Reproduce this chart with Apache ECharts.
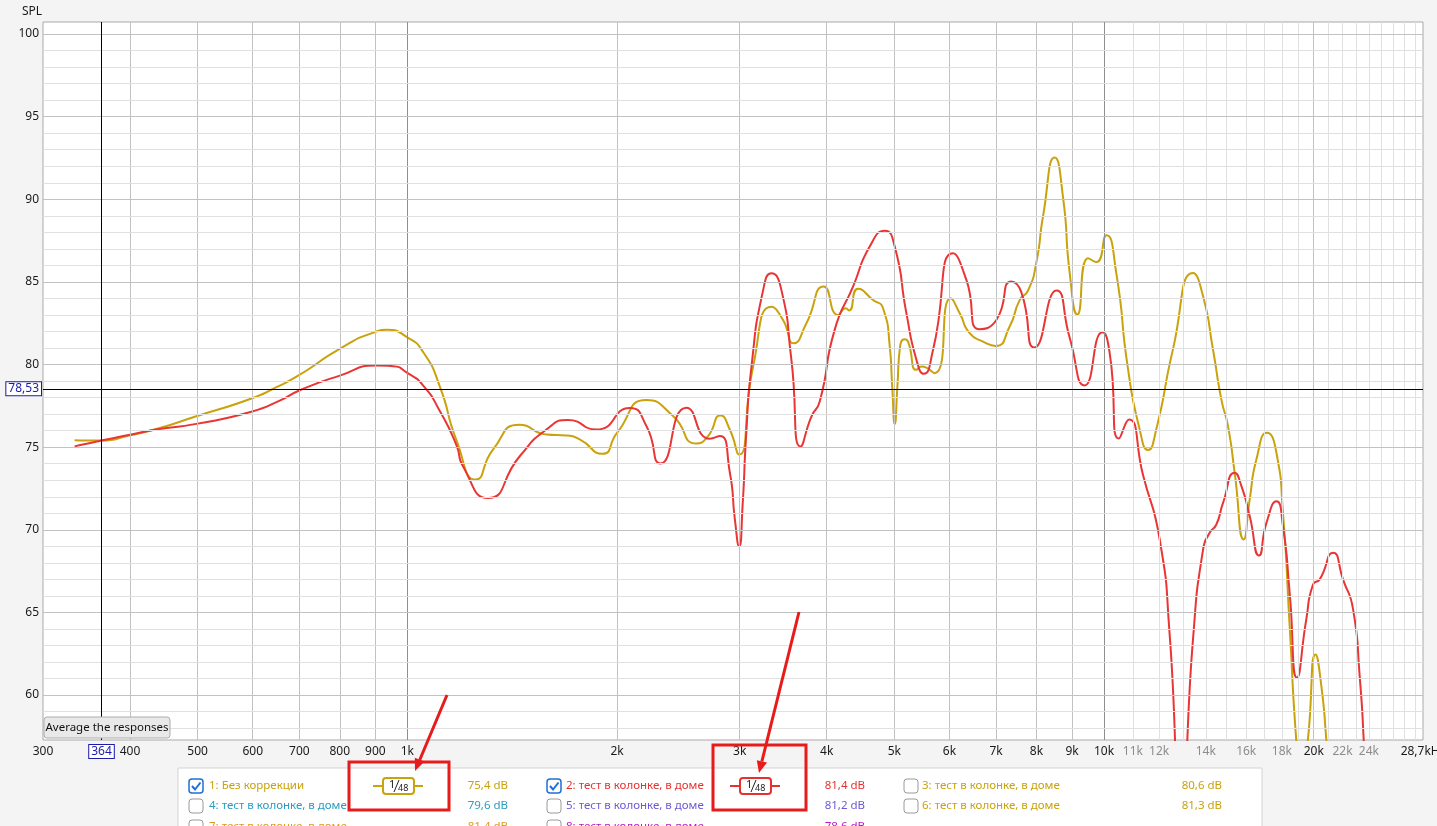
<!DOCTYPE html>
<html><head><meta charset="utf-8">
<script src="https://cdn.jsdelivr.net/npm/echarts@6/dist/echarts.min.js"></script>
<style>html,body{margin:0;padding:0;background:#f4f4f4;overflow:hidden}#c{width:1437px;height:826px}</style>
</head><body><div id="c"></div>
<script>
const FONT = '"Noto Sans", "Open Sans", sans-serif';

// Measurement 1: "Без коррекции" (gold)
const freq1 = [333,364,400,436,498,599,649,700,800,898,934,1000,1054,1113,1177,1254,1328,1450,1584,1692,1768,1906,2000,2204,2407,2600,2702,2815,2903,2994,3136,3332,3462,3587,3740,3961,4153,4259,4306,4436,4661,4818,4926,4966,5008,5052,5091,5175,5233,5381,5470,5715,6026,6208,6415,6706,6991,7321,7568,7781,7998,8175,8497,8735,8930,9157,9487,9752,10079,10416,10823,11250,11564,11887,12560,13420,13875,14337,14740,15066,15403,15868,16185,16547,17140,17680,18067,18472,18877,19200,19620,20125,20510,20850,21500];
const spl1  = [75.42,75.40,75.72,76.10,76.87,77.96,78.63,79.37,80.95,81.96,82.10,81.65,80.75,78.70,75.40,73.04,74.86,76.36,75.77,75.71,75.47,74.60,75.87,77.85,76.88,75.22,75.67,76.92,76.07,74.55,79.88,83.50,82.70,81.29,82.50,84.72,83.00,83.41,83.27,84.58,83.91,83.41,81.09,78.67,76.41,78.67,80.90,81.53,81.39,79.68,79.88,79.48,84.01,83.10,81.90,81.39,81.13,82.30,83.90,84.48,86.20,88.97,92.53,90.10,85.52,83.03,86.44,86.20,87.82,85.52,79.77,76.09,74.83,76.09,80.92,85.54,84.13,80.91,77.88,76.27,73.45,69.42,71.83,74.25,75.87,74.66,71.03,64.17,57.30,54.50,57.30,62.46,60.55,57.30,50.00];

// Measurement 2: "тест в колонке, в доме" (red)
const freq2 = [333,364,400,436,498,599,656,700,800,903,954,1000,1054,1113,1177,1202,1306,1450,1584,1701,1868,2086,2204,2309,2516,2718,2809,2903,2953,2994,3030,3064,3119,3242,3332,3443,3559,3670,3802,3908,4106,4363,4610,4845,5008,5205,5381,5512,5684,6072,6346,6631,7007,7361,7611,7951,8546,8930,9382,9947,10190,10508,10862,11374,12020,12423,12900,13420,13875,14180,14497,14820,15403,15750,16185,16690,17107,17680,18067,18472,18923,19515,19953,20400,21320,22030,22780,23280,23590,24000];
const spl2  = [75.05,75.40,75.75,76.07,76.41,77.16,77.82,78.43,79.33,79.94,79.90,79.50,78.73,77.20,75.10,73.85,71.92,74.45,76.07,76.64,76.07,77.37,76.28,74.01,77.39,75.51,75.67,73.50,70.60,69.00,71.60,75.65,79.88,84.52,85.52,84.52,80.28,75.04,76.85,77.76,82.10,84.72,87.14,88.10,87.14,83.10,80.28,79.44,80.89,86.73,85.12,82.14,82.70,85.02,84.37,81.03,84.48,81.61,78.74,81.95,80.69,75.52,76.67,73.33,69.43,63.68,52.50,63.37,68.81,69.82,70.32,71.63,73.45,72.64,70.83,68.45,70.42,71.73,70.22,66.19,61.05,64.58,66.69,67.00,68.61,67.00,65.18,61.15,57.30,50.00];

// Axis ticks / grid
const xDecadeLines = [1000, 10000];
const xMajorLines = [400,500,600,700,800,900,2000,3000,4000,5000,6000,7000,8000,9000,20000];
const xMinorLines = [11000,12000,13000,14000,15000,16000,17000,18000,19000,21000,22000,23000,24000,25000,26000,27000,28000];
const xLabelValues = [300,400,500,600,700,800,900,1000,2000,3000,4000,5000,6000,7000,8000,9000,10000,11000,12000,14000,16000,18000,20000,22000,24000,28700];
const xLabelTexts  = ['300','400','500','600','700','800','900','1k','2k','3k','4k','5k','6k','7k','8k','9k','10k','11k','12k','14k','16k','18k','20k','22k','24k','28,7kHz'];
const xLabelGray   = [11000,12000,14000,16000,18000,22000,24000];
const yMajor = [60,65,70,75,80,85,90,95,100];
const yMinor = [58,59,61,62,63,64,66,67,68,69,71,72,73,74,76,77,78,79,81,82,83,84,86,87,88,89,91,92,93,94,96,97,98,99];
const xMin = 300, xMax = 28700, yMin = 57.28, yMax = 100.73;

// Cursor
const cursorFreq = 364;
const cursorSpl = 78.53;

// Legend table
const legendNames  = ['1: Без коррекции','2: тест в колонке, в доме','3: тест в колонке, в доме','4: тест в колонке, в доме','5: тест в колонке, в доме','6: тест в колонке, в доме','7: тест в колонке, в доме','8: тест в колонке, в доме'];
const legendLevels = ['75,4 dB','81,4 dB','80,6 dB','79,6 dB','81,2 dB','81,3 dB','81,4 dB','78,6 dB'];
const legendColors = ['#c9a20c','#e5322f','#c9a20c','#2a9cc0','#6b5bd2','#c9a20c','#dc9a22','#b41cc4'];
const legendChecked = [true,true,false,false,false,false,false,false];

const GOLD = '#c9a20c', RED = '#ea3535';
const SMOOTH = 0.6;

const toPairs = (f, s) => f.map((v, i) => [v, s[i]]);

const gridLines = [];
xDecadeLines.forEach(v => gridLines.push({xAxis: v, lineStyle: {color: '#8e8e8e'}}));
xMajorLines.forEach(v => gridLines.push({xAxis: v, lineStyle: {color: '#c2c2c2'}}));
xMinorLines.forEach(v => gridLines.push({xAxis: v, lineStyle: {color: '#e0e0e0'}}));
yMinor.forEach(v => gridLines.push({yAxis: v, lineStyle: {color: '#e0e0e0'}}));
yMajor.forEach(v => gridLines.push({yAxis: v, lineStyle: {color: '#c2c2c2'}}));

const labelLines = [];
xLabelValues.forEach((v, i) => labelLines.push({
  xAxis: v, name: xLabelTexts[i],
  label: {show: true, position: 'start', formatter: '{b}', distance: 6, fontFamily: FONT, fontSize: 12,
          color: xLabelGray.includes(v) ? '#8c8c8c' : '#1a1a1a'}
}));
yMajor.forEach(v => labelLines.push({
  yAxis: v, name: String(v),
  label: {show: true, position: 'start', formatter: '{b}', distance: 4, fontFamily: FONT, fontSize: 12, color: '#1a1a1a'}
}));

const cursorLabel = {show: true, position: 'start', formatter: '{b}', color: '#1c1ca8',
  borderColor: '#1c1ca8', borderWidth: 1, backgroundColor: '#ffffff', padding: [1, 2, 0, 2],
  fontFamily: FONT, fontSize: 12};

// Graphic: legend panel, button, annotations
const LF = '11.5px ' + FONT;
const graphics = [];
graphics.push({type: 'text', left: 22, top: 6, style: {text: 'SPL', font: '12px ' + FONT, fill: '#1a1a1a'}});
graphics.push({type: 'rect', shape: {x: 44, y: 717, width: 126, height: 21, r: 3},
  style: {fill: '#e9e9e9', stroke: '#adadad', lineWidth: 1}, z: 10});
graphics.push({type: 'text', x: 107, y: 728, style: {text: 'Average the responses', font: LF, fill: '#111',
  textAlign: 'center', textVerticalAlign: 'middle'}, z: 11});
graphics.push({type: 'rect', shape: {x: 178, y: 768, width: 1084, height: 80},
  style: {fill: '#ffffff', stroke: '#d4d4d4', lineWidth: 1}, z: 1});

const colX = [189, 547, 904], textX = [209, 566, 922], levelX = [508, 865, 1222], rowY = [786, 806, 827];
legendNames.forEach((name, i) => {
  const r = Math.floor(i / 3), c = i % 3;
  const cy = rowY[r], cx = colX[c];
  const checked = legendChecked[i];
  graphics.push({type: 'rect', shape: {x: cx, y: cy - 7, width: 14, height: 14, r: 3},
    style: {fill: '#fff', stroke: checked ? '#1f6fd6' : '#9a9a9a', lineWidth: checked ? 1.5 : 1}, z: 3});
  if (checked) graphics.push({type: 'polyline', shape: {points: [[cx + 3, cy], [cx + 6, cy + 3.5], [cx + 11.5, cy - 3.5]]},
    style: {stroke: '#1f6fd6', lineWidth: 2, fill: null}, z: 4});
  graphics.push({type: 'text', x: textX[c], y: cy, style: {text: name, font: LF, fill: legendColors[i],
    textVerticalAlign: 'middle'}, z: 3});
  graphics.push({type: 'text', x: levelX[c], y: cy, style: {text: legendLevels[i], font: LF, fill: legendColors[i],
    textAlign: 'right', textVerticalAlign: 'middle'}, z: 3});
  if (checked) {
    const bx = c === 0 ? 373 : 730, col = legendColors[i];
    graphics.push({type: 'line', shape: {x1: bx, y1: cy, x2: bx + 50, y2: cy}, style: {stroke: col, lineWidth: 2}, z: 3});
    graphics.push({type: 'rect', shape: {x: bx + 10, y: cy - 8, width: 31, height: 16, r: 3},
      style: {fill: '#fff', stroke: col, lineWidth: 2}, z: 4});
    graphics.push({type: 'text', x: bx + 16, y: cy - 7, style: {text: '1', font: '11px ' + FONT, fill: '#222'}, z: 5});
    graphics.push({type: 'line', shape: {x1: bx + 21, y1: cy + 6, x2: bx + 26, y2: cy - 6}, style: {stroke: '#222', lineWidth: 1}, z: 5});
    graphics.push({type: 'text', x: bx + 25, y: cy - 2, style: {text: '48', font: '9px ' + FONT, fill: '#222'}, z: 5});
  }
});

// red annotations
const ANN = '#e81b1b';
graphics.push({type: 'rect', shape: {x: 349, y: 762, width: 100, height: 48}, style: {fill: null, stroke: ANN, lineWidth: 3}, z: 20});
graphics.push({type: 'rect', shape: {x: 713, y: 745, width: 93, height: 65}, style: {fill: null, stroke: ANN, lineWidth: 3}, z: 20});
graphics.push({type: 'line', shape: {x1: 447, y1: 695, x2: 419.7, y2: 760}, style: {stroke: ANN, lineWidth: 3}, z: 20});
graphics.push({type: 'polygon', shape: {points: [[415, 771], [424.5, 761.5], [414.8, 757.8]]}, style: {fill: ANN}, z: 20});
graphics.push({type: 'line', shape: {x1: 799, y1: 612, x2: 761.9, y2: 761.4}, style: {stroke: ANN, lineWidth: 3}, z: 20});
graphics.push({type: 'polygon', shape: {points: [[759, 773], [767, 762.6], [756.8, 760.2]]}, style: {fill: ANN}, z: 20});

const chart = echarts.init(document.getElementById('c'), null, {renderer: 'canvas'});
chart.setOption({
  animation: false,
  backgroundColor: '#f4f4f4',
  textStyle: {fontFamily: FONT},
  grid: {left: 43, right: 14, top: 22, bottom: 86, show: true, backgroundColor: '#ffffff', borderColor: '#a9a9a9', borderWidth: 1},
  xAxis: {type: 'log', logBase: 10, min: xMin, max: xMax,
    axisLine: {show: false}, axisTick: {show: false}, axisLabel: {show: false}, splitLine: {show: false}},
  yAxis: {type: 'value', min: yMin, max: yMax,
    axisLine: {show: false}, axisTick: {show: false}, axisLabel: {show: false}, splitLine: {show: false}},
  series: [
    {type: 'line', name: 'grid', data: [], z: 1, silent: true,
     markLine: {silent: true, symbol: ['none', 'none'], animation: false, label: {show: false},
       lineStyle: {type: 'solid', width: 1}, emphasis: {disabled: true}, data: gridLines}},
    {type: 'line', name: 'labels', data: [], z: 1, silent: true,
     markLine: {silent: true, symbol: ['none', 'none'], animation: false,
       lineStyle: {type: 'solid', width: 1, color: 'rgba(0,0,0,0)'}, emphasis: {disabled: true}, data: labelLines}},
    {type: 'line', name: '1: Без коррекции', data: toPairs(freq1, spl1), smooth: SMOOTH, showSymbol: false, z: 3,
     lineStyle: {color: GOLD, width: 2}, itemStyle: {color: GOLD}, clip: true},
    {type: 'line', name: '2: тест в колонке, в доме', data: toPairs(freq2, spl2), smooth: SMOOTH, showSymbol: false, z: 4,
     lineStyle: {color: RED, width: 2}, itemStyle: {color: RED}, clip: true},
    {type: 'line', name: 'cursor', data: [], z: 5, silent: true,
     markLine: {silent: true, symbol: ['none', 'none'], animation: false,
       lineStyle: {type: 'solid', width: 1, color: '#000'}, emphasis: {disabled: true},
       data: [
         {xAxis: cursorFreq, name: String(cursorFreq), label: Object.assign({distance: 5}, cursorLabel)},
         {yAxis: cursorSpl, name: cursorSpl.toFixed(2).replace('.', ','), label: Object.assign({distance: 2}, cursorLabel)}
       ]}}
  ],
  graphic: graphics
});
</script></body></html>
